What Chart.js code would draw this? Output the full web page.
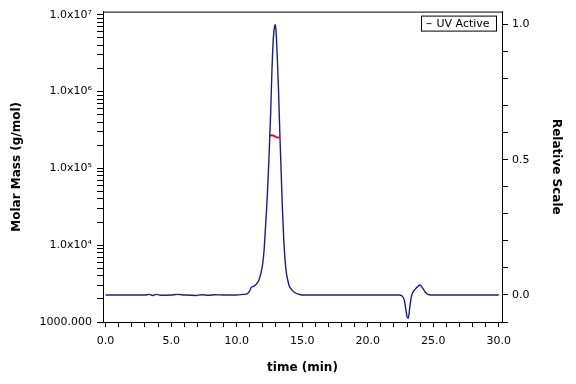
<!DOCTYPE html>
<html><head><meta charset="utf-8">
<script src="https://cdn.jsdelivr.net/npm/chart.js@4"></script>
<style>html,body{margin:0;padding:0;background:#fff}</style>
</head><body>
<canvas id="c" width="576" height="384"></canvas>
<script>
// ---- data ----
const times = [0,1,2,3,3.3,3.6,3.9,4.2,5,5.5,6,6.9,7.3,7.9,8.3,9,10,10.5,10.8,11.0,11.1,11.3,11.5,11.7,11.85,12.0,12.1,12.2,12.3,12.4,12.5,12.6,12.7,12.8,12.9,12.95,13.0,13.1,13.2,13.3,13.4,13.5,13.6,13.7,13.8,13.9,14.0,14.2,14.4,14.7,15,16,17,18,19,20,21,22,22.4,22.6,22.8,22.9,23.0,23.1,23.2,23.3,23.4,23.6,23.8,24.0,24.2,24.4,24.6,24.8,25,26,27,28,29,30];
const uvValues = [0,0,0,0,0.002,-0.002,0.002,-0.001,0,0.002,0,-0.002,0.001,-0.001,0.001,0,0,0.002,0.004,0.015,0.027,0.032,0.04,0.055,0.08,0.12,0.17,0.25,0.33,0.43,0.55,0.68,0.84,0.95,0.995,1.0,0.98,0.88,0.75,0.59,0.45,0.31,0.2,0.125,0.08,0.055,0.035,0.02,0.01,0.003,0,0,0,0,0,0,0,0,0,-0.003,-0.02,-0.05,-0.08,-0.086,-0.05,-0.015,0.005,0.02,0.03,0.037,0.025,0.01,0.002,0,0,0,0,0,0,0];
const mmTimes = [12.5,12.8,12.95,13.05,13.25];
const mmValues = [2.7e5,2.68e5,2.6e5,2.54e5,2.53e5];
const xTickValues = [0,1,2,3,4,5,6,7,8,9,10,11,12,13,14,15,16,17,18,19,20,21,22,23,24,25,26,27,28,29,30];
const xLabelValues = [0,5,10,15,20,25,30];
const massTickValues = [1000,2000,3000,4000,5000,6000,7000,8000,9000,1e4,2e4,3e4,4e4,5e4,6e4,7e4,8e4,9e4,1e5,2e5,3e5,4e5,5e5,6e5,7e5,8e5,9e5,1e6,2e6,3e6,4e6,5e6,6e6,7e6,8e6,9e6,1e7];
const massLabelValues = [1000,1e4,1e5,1e6,1e7];
const massLabelTexts = ['1000.000','1.0x10⁴','1.0x10⁵','1.0x10⁶','1.0x10⁷'];
const relTickValues = [-0.1,0,0.1,0.2,0.3,0.4,0.5,0.6,0.7,0.8,0.9,1.0];
const relLabelValues = [0,0.5,1.0];
const seriesNames = ['UV Active','Molar Mass'];

Chart.defaults.font.family = "'DejaVu Sans', sans-serif";
Chart.defaults.font.size = 11;
Chart.defaults.color = '#000';

const frame = {
  id: 'frame',
  afterDraw(chart) {
    const {ctx, chartArea: a} = chart;
    ctx.save();
    ctx.strokeStyle = '#000';
    ctx.lineWidth = 1;
    ctx.beginPath();
    ctx.moveTo(a.left, a.top + 0.5);
    ctx.lineTo(a.right, a.top + 0.5);
    ctx.stroke();
    // legend box
    const ds = chart.data.datasets[0];
    const bx = a.right - 80.5, by = a.top + 4.5, bw = 75, bh = 15;
    ctx.strokeRect(bx, by, bw, bh);
    ctx.strokeStyle = ds.borderColor;
    ctx.beginPath();
    ctx.moveTo(bx + 5, by + 7.5);
    ctx.lineTo(bx + 10, by + 7.5);
    ctx.stroke();
    ctx.fillStyle = '#000';
    ctx.font = "11px 'DejaVu Sans', sans-serif";
    ctx.textBaseline = 'middle';
    ctx.fillText(ds.label, bx + 15, by + 8);
    ctx.restore();
  }
};

new Chart(document.getElementById('c'), {
  type: 'line',
  data: {
    datasets: [
      {
        label: seriesNames[0],
        data: times.map((t, i) => ({x: t, y: uvValues[i]})),
        yAxisID: 'y2',
        borderColor: '#1c1c84',
        borderWidth: 1.4,
        pointRadius: 0,
        cubicInterpolationMode: 'monotone'
      },
      {
        label: seriesNames[1],
        data: mmTimes.map((t, i) => ({x: t, y: mmValues[i]})),
        yAxisID: 'y',
        borderColor: '#e0102a',
        borderWidth: 2,
        pointRadius: 0
      }
    ]
  },
  options: {
    responsive: false,
    animation: false,
    devicePixelRatio: 1,
    layout: {padding: {top: 11, left: 0, right: 0, bottom: 0}},
    plugins: {legend: {display: false}, tooltip: {enabled: false}},
    scales: {
      x: {
        type: 'linear', position: 'bottom', min: -0.2, max: 30.25,
        afterBuildTicks: s => { s.ticks = xTickValues.map(v => ({value: v})); },
        afterFit: s => { s.height = 62; },
        ticks: {
          autoSkip: false, maxRotation: 0, padding: 8,
          callback: v => xLabelValues.includes(v) ? v.toFixed(1) : ''
        },
        grid: {drawOnChartArea: false, tickLength: 5, color: '#000'},
        border: {display: true, color: '#000'},
        title: {display: true, text: 'time (min)', font: {weight: 'bold', size: 12}, padding: {top: 0, bottom: 9}}
      },
      y: {
        type: 'logarithmic', position: 'left', min: 1000, max: 1.1e7,
        afterBuildTicks: s => { s.ticks = massTickValues.map(v => ({value: v})); },
        afterFit: s => { s.width = 103; },
        ticks: {
          autoSkip: false, padding: 5,
          callback: v => { const i = massLabelValues.indexOf(v); return i >= 0 ? massLabelTexts[i] : ''; }
        },
        grid: {drawOnChartArea: false, tickLength: 6, color: '#000'},
        border: {display: true, color: '#000'},
        title: {display: true, text: 'Molar Mass (g/mol)', font: {weight: 'bold', size: 12}, padding: {top: 10, bottom: 0}}
      },
      y2: {
        type: 'linear', position: 'right', min: -0.1, max: 1.048,
        afterBuildTicks: s => { s.ticks = relTickValues.map(v => ({value: v})); },
        afterFit: s => { s.width = 74; },
        ticks: {
          autoSkip: false, padding: 4,
          callback: v => relLabelValues.some(r => Math.abs(r - v) < 1e-9) ? v.toFixed(1) : ''
        },
        grid: {drawOnChartArea: false, tickLength: 6, color: '#000'},
        border: {display: true, color: '#000'},
        title: {display: true, text: 'Relative Scale', font: {weight: 'bold', size: 12}, padding: {top: 13, bottom: 0}}
      }
    }
  },
  plugins: [frame]
});
</script>
</body></html>
